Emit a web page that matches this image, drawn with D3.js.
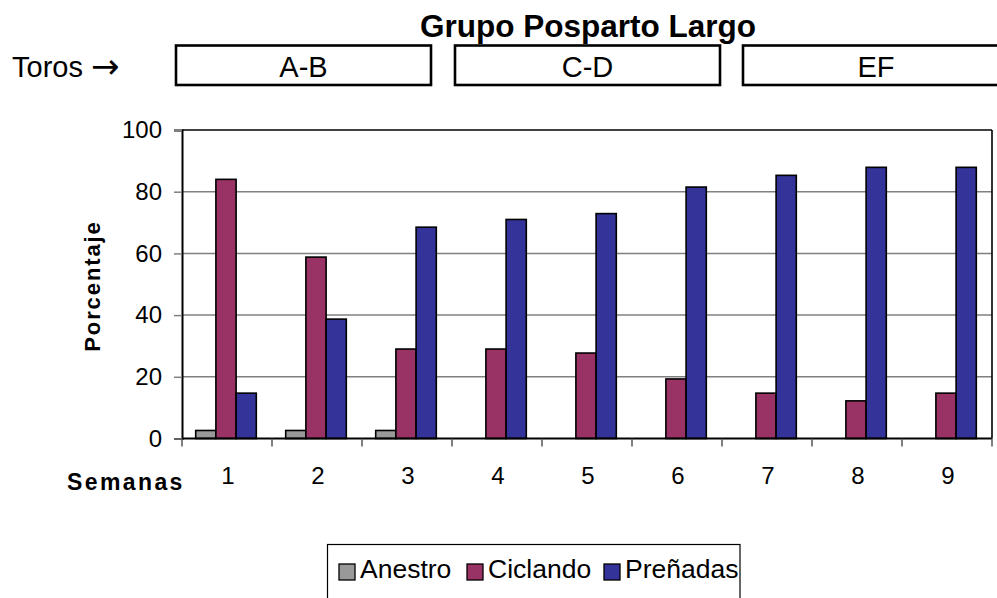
<!DOCTYPE html>
<html><head><meta charset="utf-8">
<script src="https://cdn.jsdelivr.net/npm/d3@7"></script>
<style>
body{margin:0;background:#fff;}
svg{display:block;font-family:Arial,"Liberation Sans",sans-serif;}
</style></head>
<body>
<svg id="chart" width="997" height="598"></svg>
<script>
const weeks = ["1","2","3","4","5","6","7","8","9"];
const seriesNames = ["Anestro","Ciclando","Preñadas"];
const anestro  = [2.6, 2.6, 2.6, 0, 0, 0, 0, 0, 0];
const ciclando = [84, 58.8, 29, 29, 27.7, 19.3, 14.7, 12.2, 14.7];
const prenadas = [14.7, 38.7, 68.5, 71, 72.9, 81.5, 85.3, 87.9, 87.9];
const yTicks = [0, 20, 40, 60, 80, 100];
const toros = ["A-B", "C-D", "EF"];
const colors = ["#999999", "#993366", "#333399"];

const svg = d3.select("#chart");
const M = {left:182, right:992, top:130, bottom:438.5};

const x0 = d3.scaleBand().domain(weeks).range([M.left, M.right]).padding(0);
const x1 = d3.scaleBand().domain(seriesNames).range([13.7, 74.3]).padding(0);
const y = d3.scaleLinear().domain([0, 100]).range([M.bottom, M.top]);

// gridlines
svg.append("g").selectAll("line").data(yTicks.filter(d => d > 0 && d < 100)).join("line")
  .attr("x1", M.left).attr("x2", M.right)
  .attr("y1", d => y(d)).attr("y2", d => y(d))
  .attr("stroke", "#808080").attr("stroke-width", 1.5);

// bars
const values = [anestro, ciclando, prenadas];
const rows = weeks.map((w, i) => ({w, vals: seriesNames.map((s, j) => ({s, j, v: values[j][i]}))}));
const g = svg.append("g").selectAll("g").data(rows).join("g")
  .attr("transform", d => `translate(${x0(d.w)},0)`);
g.selectAll("rect").data(d => d.vals.filter(v => v.v > 0)).join("rect")
  .attr("x", d => x1(d.s)).attr("width", x1.bandwidth())
  .attr("y", d => y(d.v)).attr("height", d => y(0) - y(d.v))
  .attr("fill", d => colors[d.j]).attr("stroke", "#000").attr("stroke-width", 1.6);

// plot border (top/right)
svg.append("line").attr("x1", M.left).attr("x2", M.right).attr("y1", M.top).attr("y2", M.top)
  .attr("stroke", "#000").attr("stroke-width", 1.6);
svg.append("line").attr("x1", M.right).attr("x2", M.right).attr("y1", M.top).attr("y2", M.bottom)
  .attr("stroke", "#000").attr("stroke-width", 1.6);

// y axis
const yAxis = d3.axisLeft(y).tickValues(yTicks).tickSize(8).tickPadding(12);
const ya = svg.append("g").attr("transform", `translate(${M.left},0)`).call(yAxis);
ya.select(".domain").attr("stroke", "#000").attr("stroke-width", 2);
ya.selectAll(".tick line").attr("stroke", "#808080").attr("stroke-width", 1.5);
ya.selectAll(".tick text").attr("font-size", 24).attr("fill", "#000")
  .attr("font-family", "Arial, 'Liberation Sans', sans-serif");

// x axis: ticks at category boundaries
const xa = svg.append("g").attr("transform", `translate(0,${M.bottom})`);
xa.append("line").attr("x1", M.left).attr("x2", M.right).attr("stroke", "#000").attr("stroke-width", 2);
const bounds = [...weeks.map(w => x0(w)), M.right];
xa.selectAll("line.t").data(bounds).join("line").attr("class", "t")
  .attr("x1", d => d).attr("x2", d => d).attr("y1", 0).attr("y2", 8)
  .attr("stroke", "#555").attr("stroke-width", 1.5);
xa.selectAll("text").data(weeks).join("text")
  .attr("x", d => x0(d) + x0.bandwidth() / 2 + 1).attr("y", 45)
  .attr("text-anchor", "middle").attr("font-size", 24).text(d => d);

// axis titles
svg.append("text").attr("x", 67).attr("y", 490).attr("font-size", 23).attr("font-weight", "bold")
  .attr("letter-spacing", 2.4).text("Semanas");
svg.append("text").attr("transform", "translate(100,286) rotate(-90)").attr("text-anchor", "middle")
  .attr("font-size", 22).attr("font-weight", "bold").attr("letter-spacing", 1.9).text("Porcentaje");

// title
svg.append("text").attr("x", 588).attr("y", 37).attr("text-anchor", "middle")
  .attr("font-size", 31.5).attr("font-weight", "bold").text("Grupo Posparto Largo");

// Toros row
const tt = svg.append("text").attr("x", 12).attr("y", 77).attr("font-size", 29);
tt.append("tspan").text("Toros ");
tt.append("tspan").attr("font-family", "'DejaVu Sans', sans-serif").attr("font-size", 34)
  .attr("dy", 1).text("\u2192");
const boxLeft = [176, 455, 743];
const boxWidth = [255, 265, 266];
const tb = svg.append("g").selectAll("g").data(toros).join("g");
tb.append("rect").attr("x", (d, i) => boxLeft[i]).attr("y", 45.5)
  .attr("width", (d, i) => boxWidth[i]).attr("height", 39.5)
  .attr("fill", "#fff").attr("stroke", "#000").attr("stroke-width", 2.6);
tb.append("text").attr("x", (d, i) => boxLeft[i] + boxWidth[i] / 2).attr("y", 77)
  .attr("text-anchor", "middle").attr("font-size", 29).text(d => d);

// legend
svg.append("rect").attr("x", 327.5).attr("y", 544.5).attr("width", 412.5).attr("height", 80)
  .attr("fill", "#fff").attr("stroke", "#000").attr("stroke-width", 1.2);
const legX = [339, 467, 604];
const lg = svg.append("g").selectAll("g").data(seriesNames).join("g")
  .attr("transform", (d, i) => `translate(${legX[i]},0)`);
lg.append("rect").attr("x", 0).attr("y", 564).attr("width", 16).attr("height", 16)
  .attr("fill", (d, i) => colors[i]).attr("stroke", "#000").attr("stroke-width", 1.3);
lg.append("text").attr("x", 21).attr("y", 578).attr("font-size", 26.5).text(d => d);
</script>
</body></html>
